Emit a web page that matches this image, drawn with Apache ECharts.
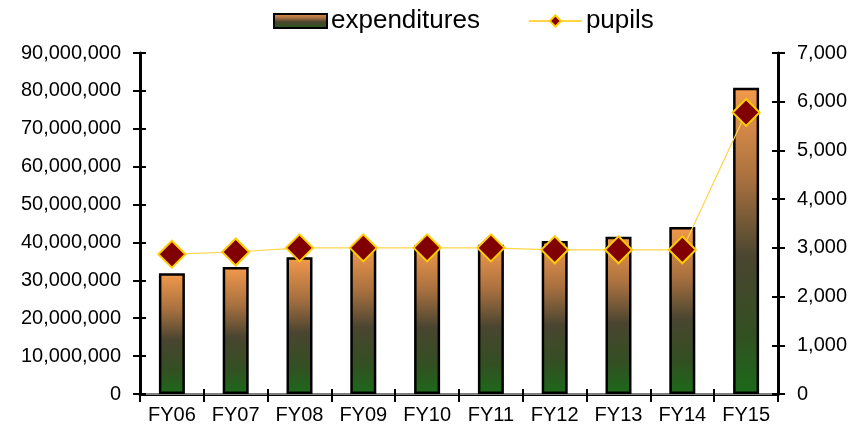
<!DOCTYPE html>
<html>
<head>
<meta charset="utf-8">
<script src="https://cdn.jsdelivr.net/npm/echarts@6/dist/echarts.min.js"></script>
<style>html,body{margin:0;padding:0;background:#fff}#c{width:860px;height:437px}</style>
</head>
<body>
<div id="c"></div>
<script>
const categories = ['FY06','FY07','FY08','FY09','FY10','FY11','FY12','FY13','FY14','FY15'];
const expenditures = [31900000, 33500000, 36100000, 39000000, 39200000, 39400000, 40400000, 41500000, 44100000, 80800000];
const pupils = [2870, 2915, 3000, 3000, 3000, 3000, 2960, 2960, 2960, 5780];
const leftTicks = {min: 0, max: 90000000, interval: 10000000};
const rightTicks = {min: 0, max: 7000, interval: 1000};

const fmt = v => Number(v).toLocaleString('en-US');
const FONT = '"Liberation Sans", Arial, sans-serif';
const chart = echarts.init(document.getElementById('c'));
const barGrad = new echarts.graphic.LinearGradient(0, 0, 0, 1, [
  {offset: 0, color: '#F39A4C'},
  {offset: 0.3, color: '#A8703F'},
  {offset: 0.55, color: '#4A4530'},
  {offset: 0.8, color: '#334F22'},
  {offset: 1, color: '#1C6A1A'}
]);
const axisLine = {show: true, lineStyle: {color: '#000', width: 3}};
chart.setOption({
  animation: false,
  textStyle: {fontFamily: FONT},
  legend: {
    top: 3, left: 268, itemWidth: 53, itemHeight: 14, itemGap: 48,
    textStyle: {fontSize: 26, color: '#000', fontFamily: FONT, padding: [0, 0, 0, -1]},
    data: [{name: 'expenditures', icon: 'rect'}, {name: 'pupils'}]
  },
  grid: {left: 140, right: 82, top: 53, height: 341},
  xAxis: [
    {type: 'category', data: categories, position: 'bottom',
     axisLine: axisLine,
     axisTick: {show: true, length: 8, lineStyle: {color: '#000', width: 2}},
     axisLabel: {fontSize: 20, color: '#000', margin: 11, fontFamily: FONT}},
    {type: 'category', data: categories, position: 'bottom',
     axisLine: {show: false}, axisLabel: {show: false},
     axisTick: {show: true, inside: true, length: 5, lineStyle: {color: '#000', width: 2}}},
    {type: 'category', data: categories, position: 'top',
     axisLine: {show: true, lineStyle: {color: '#808080', width: 2}},
     axisTick: {show: false}, axisLabel: {show: false}}
  ],
  yAxis: [
    {type: 'value', position: 'left', min: leftTicks.min, max: leftTicks.max, interval: leftTicks.interval,
     axisLine: axisLine, splitLine: {show: false},
     axisTick: {show: true, length: 7, lineStyle: {color: '#000', width: 2}},
     axisLabel: {fontSize: 20, color: '#000', margin: 19, formatter: fmt, fontFamily: FONT}},
    {type: 'value', position: 'right', min: rightTicks.min, max: rightTicks.max, interval: rightTicks.interval,
     axisLine: axisLine, splitLine: {show: false},
     axisTick: {show: true, length: 7, lineStyle: {color: '#000', width: 2}},
     axisLabel: {fontSize: 20, color: '#000', margin: 19, formatter: fmt, fontFamily: FONT}},
    {type: 'value', position: 'left', min: leftTicks.min, max: leftTicks.max, interval: leftTicks.interval,
     axisLine: {show: false}, splitLine: {show: false}, axisLabel: {show: false},
     axisTick: {show: true, inside: true, length: 6, lineStyle: {color: '#000', width: 2}}},
    {type: 'value', position: 'right', min: rightTicks.min, max: rightTicks.max, interval: rightTicks.interval,
     axisLine: {show: false}, splitLine: {show: false}, axisLabel: {show: false},
     axisTick: {show: true, inside: true, length: 6, lineStyle: {color: '#000', width: 2}}}
  ],
  series: [
    {name: 'expenditures', type: 'bar', data: expenditures, xAxisIndex: 0, yAxisIndex: 0,
     barWidth: 26,
     itemStyle: {color: barGrad, borderColor: '#000', borderWidth: 2.5}},
    {name: 'pupils', type: 'line', data: pupils, xAxisIndex: 0, yAxisIndex: 1,
     symbol: 'diamond', symbolSize: 27,
     lineStyle: {color: '#FFD54A', width: 1.2},
     itemStyle: {color: '#800000', borderColor: '#FFCC00', borderWidth: 2},
     z: 5}
  ]
});
</script>
</body>
</html>
